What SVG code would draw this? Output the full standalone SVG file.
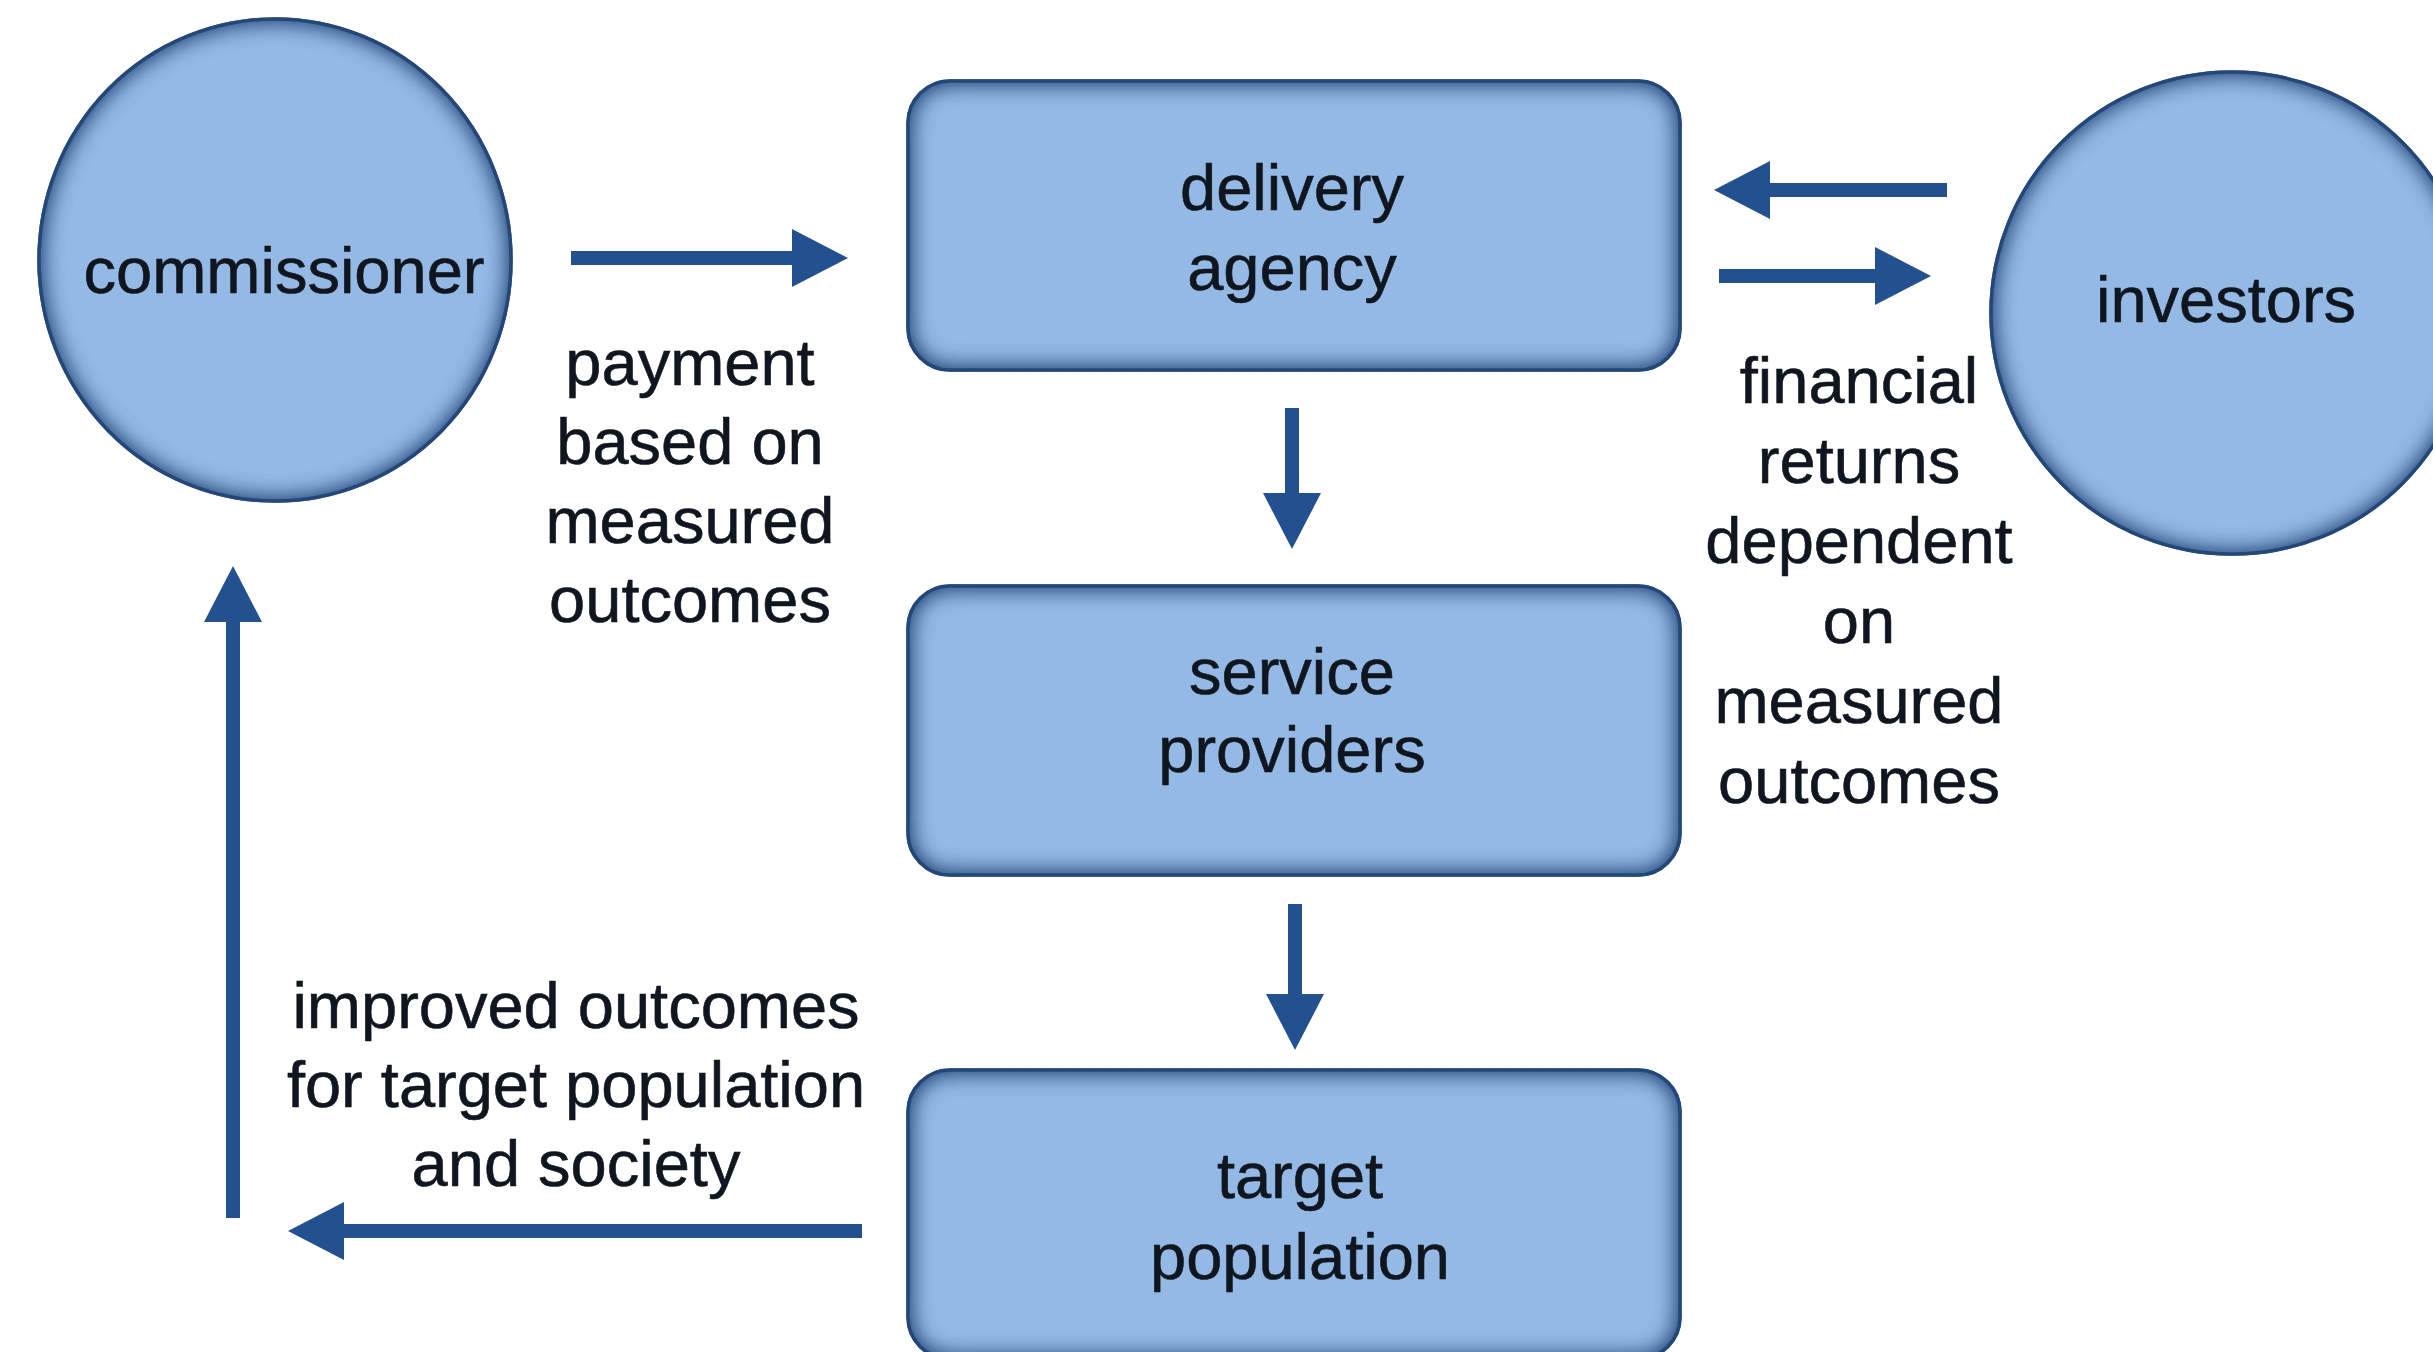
<svg xmlns="http://www.w3.org/2000/svg" width="2433" height="1352" viewBox="0 0 2433 1352">
<defs>
<style>
.node{fill:#93B9E4;stroke:#2B4C7E;stroke-width:3.5;filter:url(#inner)}
.lbl{font-family:"Liberation Sans",Arial,sans-serif;font-size:65px;fill:#10161f;stroke:#10161f;stroke-width:0.6;text-anchor:middle}
.conn{stroke:#23508E;stroke-width:14;fill:none;marker-end:url(#head)}
</style>
<filter id="inner" x="-10%" y="-10%" width="120%" height="120%" color-interpolation-filters="sRGB">
<feFlood flood-color="#224577" flood-opacity="1" result="c"/>
<feComposite in="c" in2="SourceAlpha" operator="out" result="outside"/>
<feGaussianBlur in="outside" stdDeviation="12" result="blur"/>
<feComposite in="blur" in2="SourceAlpha" operator="in" result="shadow"/>
<feMerge><feMergeNode in="SourceGraphic"/><feMergeNode in="shadow"/><feMergeNode in="shadow"/></feMerge>
</filter>
<marker id="head" markerUnits="userSpaceOnUse" viewBox="0 0 56 58" refX="1" refY="29" markerWidth="56" markerHeight="58" orient="auto">
<path d="M0,0 L56,29 L0,58 Z" fill="#23508E"/>
</marker>
</defs>
<rect width="2433" height="1352" fill="#ffffff"/>
<g id="connectors">
<line class="conn" x1="571" y1="258" x2="793" y2="258"/>
<line class="conn" x1="1292" y1="408" x2="1292" y2="494"/>
<line class="conn" x1="1295" y1="904" x2="1295" y2="995"/>
<line class="conn" x1="1947" y1="190" x2="1769" y2="190"/>
<line class="conn" x1="1719" y1="276" x2="1876" y2="276"/>
<line class="conn" x1="862" y1="1231" x2="343" y2="1231"/>
<line class="conn" x1="233" y1="1218" x2="233" y2="621"/>
</g>
<g id="commissioner">
<ellipse class="node" cx="275" cy="260" rx="236" ry="241"/>
<text class="lbl" x="284" y="293">commissioner</text>
</g>
<g id="delivery-agency">
<rect class="node" x="908" y="81" width="772" height="289" rx="42" ry="42"/>
<text class="lbl" x="1292" y="210">delivery</text>
<text class="lbl" x="1292" y="290">agency</text>
</g>
<g id="service-providers">
<rect class="node" x="908" y="586" width="772" height="289" rx="42" ry="42"/>
<text class="lbl" x="1292" y="694">service</text>
<text class="lbl" x="1292" y="772">providers</text>
</g>
<g id="target-population">
<rect class="node" x="908" y="1070" width="772" height="289" rx="42" ry="42"/>
<text class="lbl" x="1300" y="1198">target</text>
<text class="lbl" x="1300" y="1279">population</text>
</g>
<g id="investors">
<circle class="node" cx="2232" cy="313" r="241"/>
<text class="lbl" x="2226" y="322">investors</text>
</g>
<g id="label-payment">
<text class="lbl" x="690" y="385">payment</text>
<text class="lbl" x="690" y="464">based on</text>
<text class="lbl" x="690" y="543">measured</text>
<text class="lbl" x="690" y="622">outcomes</text>
</g>
<g id="label-financial">
<text class="lbl" x="1859" y="403">financial</text>
<text class="lbl" x="1859" y="483">returns</text>
<text class="lbl" x="1859" y="563">dependent</text>
<text class="lbl" x="1859" y="643">on</text>
<text class="lbl" x="1859" y="723">measured</text>
<text class="lbl" x="1859" y="803">outcomes</text>
</g>
<g id="label-improved">
<text class="lbl" x="576" y="1028">improved outcomes</text>
<text class="lbl" x="576" y="1107">for target population</text>
<text class="lbl" x="576" y="1186">and society</text>
</g>
</svg>
